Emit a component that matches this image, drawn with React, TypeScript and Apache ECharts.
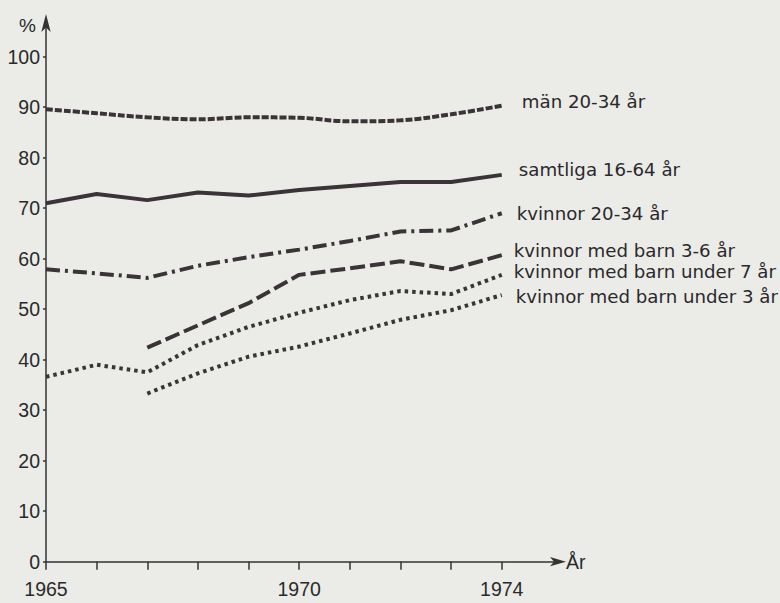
import React, { useEffect, useRef } from "react";
import * as echarts from "echarts";

const years = [1965, 1966, 1967, 1968, 1969, 1970, 1971, 1972, 1973, 1974];
const man2034 = [89.6, 88.8, 88.0, 87.6, 88.0, 87.9, 87.2, 87.4, 88.6, 90.3];
const samtliga1664 = [71.0, 72.8, 71.6, 73.1, 72.5, 73.6, 74.4, 75.2, 75.2, 76.6];
const kvinnor2034 = [57.9, 57.1, 56.2, 58.6, 60.3, 61.8, 63.5, 65.4, 65.6, 69.0];
const barn36 = [null, null, 42.4, 46.8, 51.2, 56.8, 58.1, 59.5, 57.9, 60.7];
const barnUnder7 = [36.6, 39.0, 37.5, 42.9, 46.5, 49.3, 51.8, 53.6, 53.0, 56.8];
const barnUnder3 = [null, null, 33.3, 37.3, 40.6, 42.6, 45.2, 47.9, 49.8, 52.8];

const seriesNames = [
  "män 20-34 år",
  "samtliga 16-64 år",
  "kvinnor 20-34 år",
  "kvinnor med barn 3-6 år",
  "kvinnor med barn under 7 år",
  "kvinnor med barn under 3 år",
];

const yTicks = [0, 10, 20, 30, 40, 50, 60, 70, 80, 90, 100];
const xTicks = [1965, 1966, 1967, 1968, 1969, 1970, 1971, 1972, 1973, 1974];
const xLabels = [1965, 1970, 1974];

const INK = "#3a3438";
const TEXT = "#2c292c";

function pairs(vals: (number | null)[]) {
  const out: number[][] = [];
  vals.forEach((v, i) => {
    if (v !== null) out.push([years[i], v]);
  });
  return out;
}

export default function App() {
  const ref = useRef<HTMLDivElement>(null);
  useEffect(() => {
    if (!ref.current) return;
    const chart = echarts.init(ref.current, null, { renderer: "svg" });
    const labelFont = {
      fontFamily: "DejaVu Sans",
      fontSize: 18.2,
      color: TEXT,
    };
    const mk = (
      name: string,
      vals: (number | null)[],
      type: any,
      width: number,
      offset: number[],
      smooth: number | boolean
    ) => ({
      name,
      type: "line",
      data: pairs(vals),
      symbol: "none",
      smooth,
      lineStyle: { color: INK, width, type },
      endLabel: {
        show: true,
        formatter: name,
        distance: 0,
        offset,
        align: "left",
        verticalAlign: "middle",
        ...labelFont,
      },
    });
    chart.setOption({
      animation: false,
      backgroundColor: "#ebece7",
      grid: { left: 46, right: 220, top: 20, bottom: 41.3 },
      xAxis: {
        type: "value",
        min: 1965,
        max: 1975.15,
        splitLine: { show: false },
        axisLine: {
          show: true,
          lineStyle: { color: "#333", width: 1.5 },
          symbol: ["none", "arrow"],
          symbolSize: [7, 16],
          symbolOffset: [0, 6],
        },
        axisTick: {
          show: true,
          customValues: xTicks,
          length: 8,
          inside: false,
          lineStyle: { color: "#333", width: 1.5 },
        },
        axisLabel: {
          customValues: xLabels,
          margin: 18,
          fontFamily: "Liberation Sans",
          fontSize: 19.5,
          lineHeight: 19,
          color: "#2a2a2a",
          formatter: (v: number) => String(v),
        },
      },
      yAxis: {
        type: "value",
        min: 0,
        max: 107.27,
        splitLine: { show: false },
        axisLine: {
          show: true,
          lineStyle: { color: "#333", width: 1.5 },
          symbol: ["none", "arrow"],
          symbolSize: [7, 18],
          symbolOffset: [0, 6],
        },
        axisTick: {
          show: true,
          customValues: yTicks,
          length: 3,
          lineStyle: { color: "#333", width: 1.5 },
        },
        axisLabel: {
          customValues: yTicks,
          margin: 6,
          fontFamily: "Liberation Sans",
          fontSize: 19.5,
          color: "#2a2a2a",
          formatter: (v: number) => String(v),
        },
      },
      graphic: [
        {
          type: "text",
          left: 19,
          top: 16,
          style: { text: "%", fontFamily: "Liberation Sans", fontSize: 19, fill: "#2a2a2a" },
        },
        {
          type: "text",
          left: 566,
          top: 552,
          style: { text: "År", fontFamily: "Liberation Sans", fontSize: 19.5, fill: "#2a2a2a" },
        },
      ],
      series: [
        mk(seriesNames[0], man2034, [7, 2], 4, [20, -4], 0.4),
        mk(seriesNames[1], samtliga1664, "solid", 4, [17, -5], false),
        mk(seriesNames[2], kvinnor2034, [14, 5, 3, 5], 4, [15, 0], false),
        mk(seriesNames[3], barn36, [15, 5], 4, [12, -5], false),
        mk(seriesNames[4], barnUnder7, [3.5, 4], 4, [12, -3], false),
        mk(seriesNames[5], barnUnder3, [3.5, 4], 4, [14, 1], false),
      ],
    });
    return () => chart.dispose();
  }, []);
  return (
    <div
      ref={ref}
      style={{ position: "fixed", left: 0, top: 0, width: 780, height: 603 }}
    />
  );
}
